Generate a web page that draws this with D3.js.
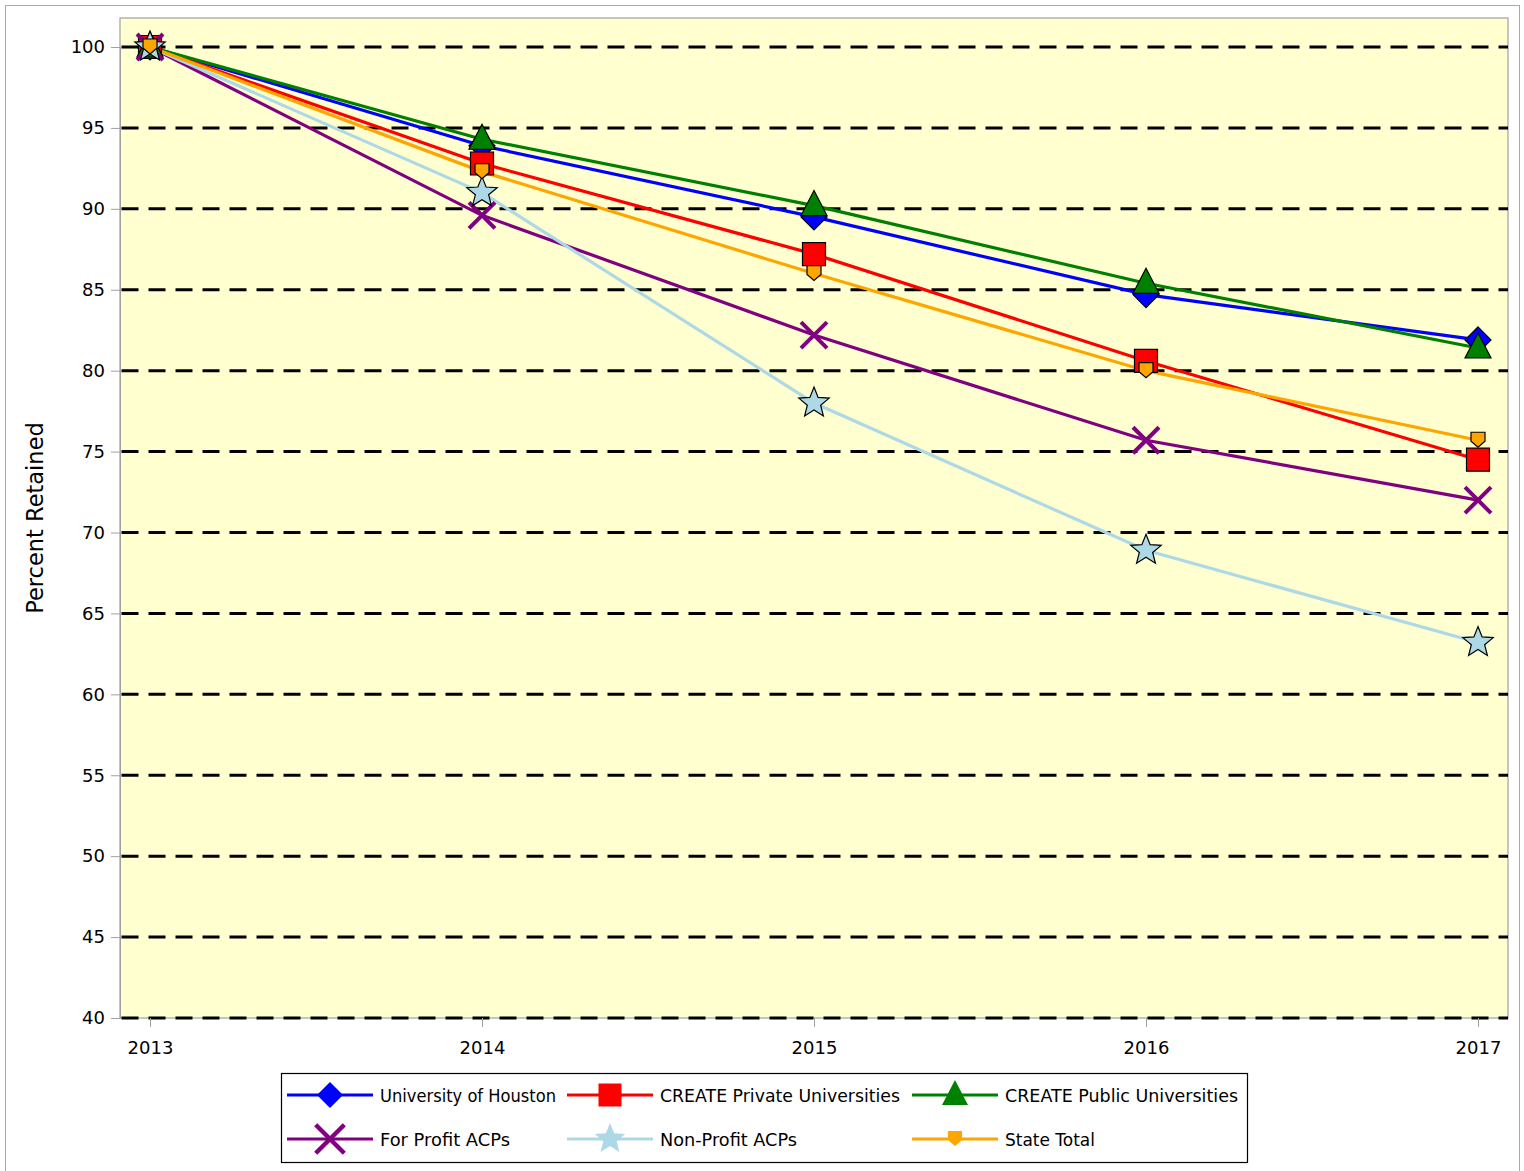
<!DOCTYPE html>
<html><head><meta charset="utf-8">
<script src="https://cdn.jsdelivr.net/npm/d3@7"></script>
<style>body{margin:0;background:#fff}svg{display:block}text{font-family:"DejaVu Sans",sans-serif;fill:#000}</style>
</head><body>
<svg id="c" width="1524" height="1171"></svg>
<script>
const years = [2013, 2014, 2015, 2016, 2017];
const yTicks = [40,45,50,55,60,65,70,75,80,85,90,95,100];
const seriesNames = ["University of Houston","CREATE Private Universities","CREATE Public Universities","For Profit ACPs","Non-Profit ACPs","State Total"];
const uhValues      = [100, 93.9, 89.5, 84.7, 81.9];
const privateValues = [100, 92.8, 87.2, 80.6, 74.5];
const publicValues  = [100, 94.3, 90.2, 85.4, 81.4];
const forProfitValues = [100, 89.6, 82.2, 75.7, 72.0];
const nonProfitValues = [100, 91.0, 78.0, 68.9, 63.2];
const stateValues   = [100, 92.3, 86.0, 80.0, 75.7];
const seriesColors = ["#0000ff","#ff0000","#008000","#800080","#add8e6","#ffa500"];
const seriesShapes = ["diamond","square","triangle","x","star","shield"];
const allValues = [uhValues, privateValues, publicValues, forProfitValues, nonProfitValues, stateValues];
const legendTextWidths = [176, 240, 233, 130, 137, 90];

const svg = d3.select("#c");
const L=120, T=18, R=1508, B=1018;
const x = d3.scaleLinear().domain([2013,2017]).range([150,1478]);
const y = d3.scaleLinear().domain([40,100]).range([B,47]);

svg.append("rect").attr("x",5.5).attr("y",5.5).attr("width",1514).attr("height",1180).attr("fill","#fff").attr("stroke","#aaa").attr("stroke-width",1);
svg.append("rect").attr("x",L).attr("y",T).attr("width",R-L).attr("height",B-T).attr("fill","#ffffd0").attr("stroke","#a0a0a0").attr("stroke-width",1.2);

svg.append("g").selectAll("line").data(yTicks).join("line")
  .attr("x1",L+1.5).attr("x2",R).attr("y1",d=>y(d)).attr("y2",d=>y(d))
  .attr("stroke","#000").attr("stroke-width",3).attr("stroke-dasharray","17 10");

const yAxis = d3.axisLeft(y).tickValues(yTicks).tickSize(9).tickPadding(6);
const gy = svg.append("g").attr("transform",`translate(${L},0)`).call(yAxis);
gy.select(".domain").attr("stroke","#a0a0a0");
gy.selectAll(".tick line").attr("stroke","#a0a0a0");
gy.selectAll(".tick text").attr("font-size",18).attr("font-family","DejaVu Sans").attr("fill","#000");

const xAxis = d3.axisBottom(x).tickValues(years).tickFormat(d3.format("d")).tickSize(9).tickPadding(14);
const gx = svg.append("g").attr("transform",`translate(0,${B})`).call(xAxis);
gx.select(".domain").remove();
gx.selectAll(".tick line").attr("stroke","#a0a0a0");
gx.selectAll(".tick text").attr("font-size",18).attr("font-family","DejaVu Sans").attr("fill","#000");

svg.append("text").attr("transform","translate(43,518) rotate(-90)").attr("text-anchor","middle")
  .attr("font-size",22.5).text("Percent Retained");

function shapePath(shape){
  switch(shape){
    case "diamond": return "M0,-13L13,0L0,13L-13,0Z";
    case "square": return "M-11.5,-11.5H11.5V11.5H-11.5Z";
    case "triangle": return "M0,-15L13,10L-13,10Z";
    case "star": {
      const pts=[]; for(let i=0;i<10;i++){const r=i%2?7:16; const a=-Math.PI/2+i*Math.PI/5; pts.push([r*Math.cos(a),r*Math.sin(a)]);}
      return "M"+pts.map(p=>p.join(",")).join("L")+"Z";
    }
    case "shield": return "M-7,-8H7V1L0,7L-7,1Z";
    case "x": return "M-13,-13L13,13M13,-13L-13,13";
  }
}

const line = d3.line().x((d,i)=>x(years[i])).y(d=>y(d));
allValues.forEach((vals,k)=>{
  svg.append("path").attr("d",line(vals)).attr("fill","none").attr("stroke",seriesColors[k]).attr("stroke-width",3.2);
});
allValues.forEach((vals,k)=>{
  const g = svg.append("g");
  g.selectAll("path").data(vals).join("path")
    .attr("transform",(d,i)=>`translate(${x(years[i])},${y(d)})`)
    .attr("d",shapePath(seriesShapes[k]))
    .attr("fill",seriesShapes[k]==="x"?"none":seriesColors[k])
    .attr("stroke",seriesShapes[k]==="x"?seriesColors[k]:"#000")
    .attr("stroke-width",seriesShapes[k]==="x"?4:1.2);
});

const lg = svg.append("g");
lg.append("rect").attr("x",281.5).attr("y",1073.5).attr("width",966).attr("height",89).attr("fill","#fff").attr("stroke","#000").attr("stroke-width",1.2);
const colX=[287,567,912], rowY=[1095,1139];
seriesNames.forEach((name,k)=>{
  const cx=colX[k%3], cy=rowY[Math.floor(k/3)];
  const e=lg.append("g").attr("transform",`translate(${cx},${cy})`);
  e.append("line").attr("x1",0).attr("x2",86).attr("stroke",seriesColors[k]).attr("stroke-width",3.2);
  const sh=seriesShapes[k];
  e.append("path").attr("transform","translate(43,0)"+(sh==="x"?" scale(1.1)":"")).attr("d",shapePath(sh))
    .attr("fill",sh==="x"?"none":seriesColors[k]).attr("stroke",sh==="x"?seriesColors[k]:"none").attr("stroke-width",4);
  e.append("text").attr("x",93).attr("y",6.5).attr("font-size",17.2)
    .attr("textLength",legendTextWidths[k]).attr("lengthAdjust","spacingAndGlyphs").text(name);
});
</script>
</body></html>
